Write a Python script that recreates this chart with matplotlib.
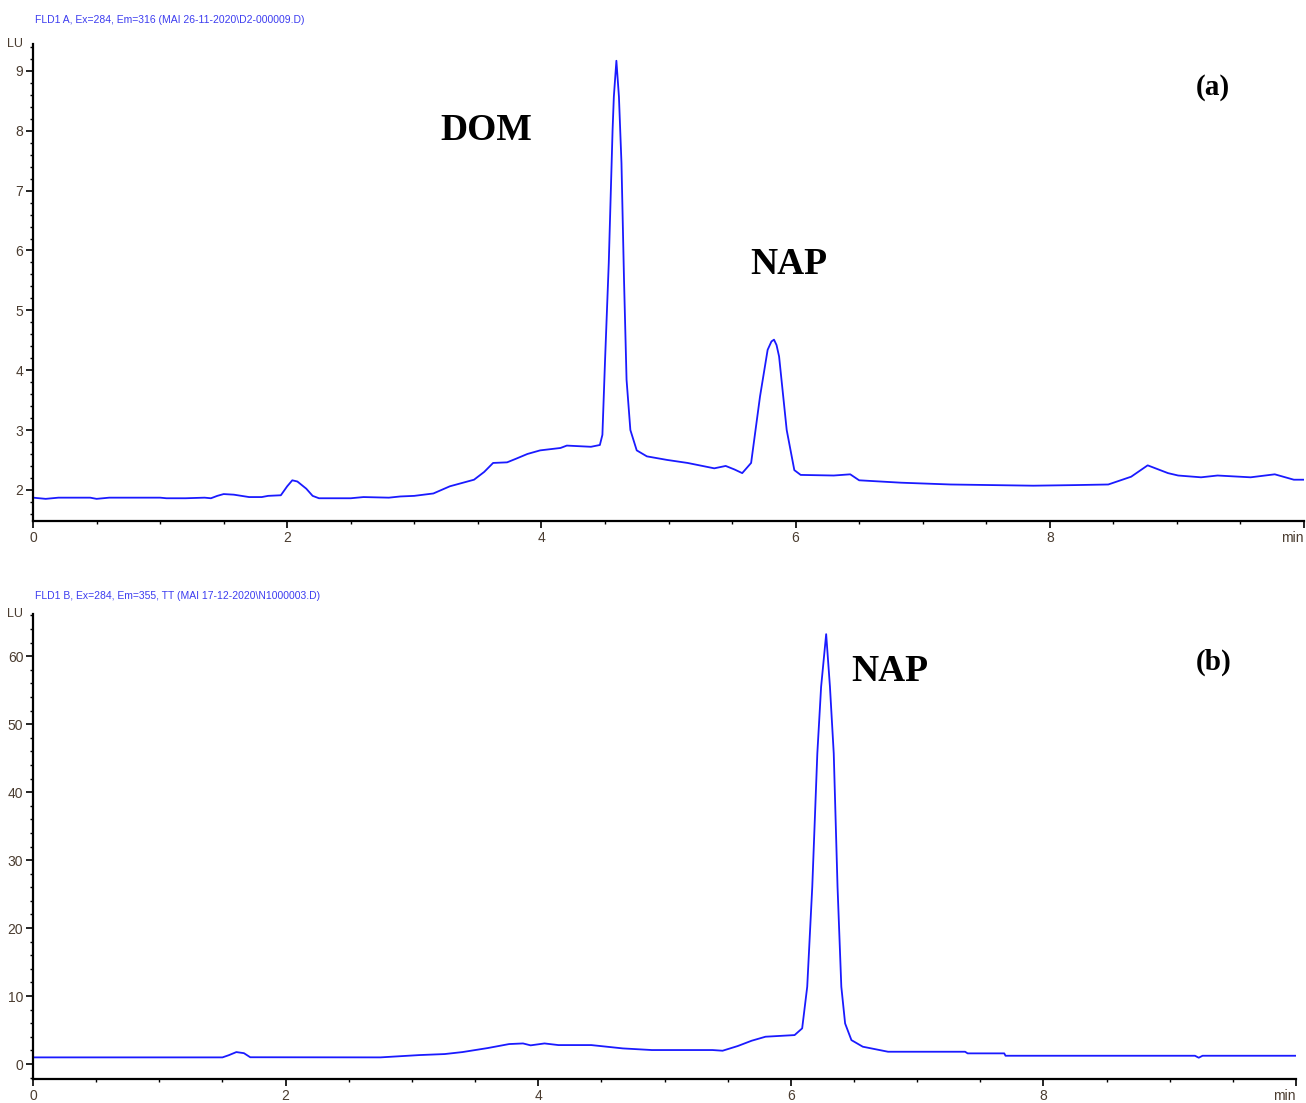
import numpy as np
import matplotlib
matplotlib.use("Agg")
import matplotlib.pyplot as plt
from matplotlib.ticker import MultipleLocator, FixedLocator

# ---- chromatogram (a): FLD1 A, Ex=284, Em=316 ----
a_time = [0.00, 0.10, 0.20, 0.45, 0.50, 0.60, 1.00, 1.05, 1.20, 1.35, 1.40, 1.45,
          1.50, 1.58, 1.70, 1.80, 1.85, 1.95, 2.00, 2.04, 2.08, 2.15, 2.20, 2.25,
          2.50, 2.60, 2.80, 2.89, 3.00, 3.15, 3.28, 3.47, 3.55, 3.62, 3.73, 3.80,
          3.89, 3.99, 4.15, 4.20, 4.39, 4.46, 4.48, 4.50, 4.53, 4.56, 4.57, 4.59,
          4.61, 4.63, 4.65, 4.67, 4.70, 4.75, 4.83, 4.99, 5.15, 5.36, 5.45, 5.52,
          5.58, 5.65, 5.72, 5.78, 5.81, 5.83, 5.85, 5.87, 5.93, 5.99, 6.04, 6.30,
          6.43, 6.50, 6.83, 7.22, 7.87, 8.20, 8.46, 8.64, 8.77, 8.93, 9.01, 9.19,
          9.32, 9.58, 9.77, 9.92, 10.00]
a_signal = [1.87, 1.85, 1.87, 1.87, 1.85, 1.87, 1.87, 1.86, 1.86, 1.87, 1.86, 1.90,
            1.93, 1.92, 1.88, 1.88, 1.90, 1.91, 2.06, 2.16, 2.14, 2.02, 1.90, 1.86,
            1.86, 1.88, 1.87, 1.89, 1.90, 1.94, 2.06, 2.17, 2.30, 2.45, 2.46, 2.52,
            2.60, 2.66, 2.70, 2.74, 2.72, 2.75, 2.92, 4.12, 5.79, 8.01, 8.57, 9.17,
            8.57, 7.46, 5.51, 3.84, 3.00, 2.66, 2.56, 2.50, 2.45, 2.36, 2.40, 2.34,
            2.28, 2.45, 3.56, 4.34, 4.48, 4.51, 4.42, 4.23, 3.00, 2.33, 2.25, 2.24,
            2.26, 2.16, 2.12, 2.09, 2.07, 2.08, 2.09, 2.22, 2.41, 2.28, 2.24, 2.21,
            2.24, 2.21, 2.26, 2.17, 2.17]

# ---- chromatogram (b): FLD1 B, Ex=284, Em=355 ----
b_time = [0.00, 1.50, 1.55, 1.61, 1.67, 1.72, 2.75, 3.06, 3.26, 3.40, 3.60, 3.77,
          3.88, 3.94, 4.05, 4.16, 4.42, 4.67, 4.90, 5.38, 5.46, 5.58, 5.69, 5.80,
          6.03, 6.09, 6.13, 6.17, 6.21, 6.24, 6.28, 6.31, 6.34, 6.37, 6.40, 6.43,
          6.48, 6.57, 6.77, 7.38, 7.40, 7.69, 7.70, 9.20, 9.23, 9.26, 10.00]
b_signal = [0.98, 0.98, 1.30, 1.76, 1.60, 1.00, 0.98, 1.32, 1.47, 1.76, 2.35, 2.94,
            3.03, 2.75, 3.03, 2.79, 2.79, 2.30, 2.06, 2.06, 1.96, 2.65, 3.43, 4.02,
            4.26, 5.25, 11.37, 26.08, 45.69, 55.49, 63.24, 55.49, 45.69, 26.08, 11.37, 5.97,
            3.52, 2.55, 1.81, 1.81, 1.57, 1.57, 1.22, 1.22, 0.93, 1.22, 1.22]

headers = ["FLD1 A, Ex=284, Em=316 (MAI 26-11-2020\\D2-000009.D)",
           "FLD1 B, Ex=284, Em=355, TT (MAI 17-12-2020\\N1000003.D)"]
x_ticklabels = ["0", "2", "4", "6", "8", "min"]

narrow = ["Liberation Sans Narrow", "Liberation Sans", "DejaVu Sans"]
lbl_col = "#4a3c30"
trace_col = "#1a1aff"

fig = plt.figure(figsize=(13.06, 11.03), dpi=100)

def style_axes(ax, ylim, yminor, header, hdr_y):
    ax.set_xlim(0, 10)
    ax.set_ylim(*ylim)
    for s in ["top", "right"]:
        ax.spines[s].set_visible(False)
    for s in ["left", "bottom"]:
        ax.spines[s].set_linewidth(1.6)
    ax.set_xticks(np.arange(0, 11, 2))
    ax.set_xticklabels(x_ticklabels)
    ax.xaxis.set_minor_locator(MultipleLocator(0.5))
    ax.yaxis.set_minor_locator(MultipleLocator(yminor))
    ax.tick_params(which="major", direction="out", length=5, width=1.2,
                   labelsize=10, labelcolor=lbl_col, pad=2)
    ax.tick_params(which="minor", direction="out", length=2.5, width=1.0)
    for lab in ax.get_xticklabels() + ax.get_yticklabels():
        lab.set_family(narrow)
    # "min" sits at the right end of the axis
    ax.get_xticklabels()[-1].set_horizontalalignment("right")
    ax.text(-0.008, 1.0, "LU", transform=ax.transAxes, ha="right", va="center",
            fontsize=9, color=lbl_col, family=narrow)
    fig.text(35 / 1306, hdr_y, header, ha="left", va="center",
             fontsize=7.5, color="#3c3cf0", family=narrow)

# panel (a)
ax1 = fig.add_axes([33 / 1306, 1 - 521 / 1103, 1271 / 1306, 477 / 1103])
ax1.plot(a_time, a_signal, color=trace_col, lw=1.3)
ax1.yaxis.set_major_locator(FixedLocator([2, 3, 4, 5, 6, 7, 8, 9]))
style_axes(ax1, (1.48, 9.45), 0.2, headers[0], 1 - 20 / 1103)
ax1.text(3.57, 8.01, "DOM", ha="center", va="center", fontsize=27,
         fontweight="bold", family="Liberation Serif")
ax1.text(5.95, 5.76, "NAP", ha="center", va="center", fontsize=27,
         fontweight="bold", family="Liberation Serif")
ax1.text(9.28, 8.72, "(a)", ha="center", va="center", fontsize=21,
         fontweight="bold", family="Liberation Serif")

# panel (b)
ax2 = fig.add_axes([33 / 1306, 1 - 1079 / 1103, 1263 / 1306, 465 / 1103])
ax2.plot(b_time, b_signal, color=trace_col, lw=1.3)
ax2.yaxis.set_major_locator(MultipleLocator(10))
style_axes(ax2, (-2.2, 66.2), 2, headers[1], 1 - 596 / 1103)
ax2.text(6.78, 57.8, "NAP", ha="center", va="center", fontsize=27,
         fontweight="bold", family="Liberation Serif")
ax2.text(9.35, 59.1, "(b)", ha="center", va="center", fontsize=21,
         fontweight="bold", family="Liberation Serif")

fig.savefig("out.png", dpi=100)
